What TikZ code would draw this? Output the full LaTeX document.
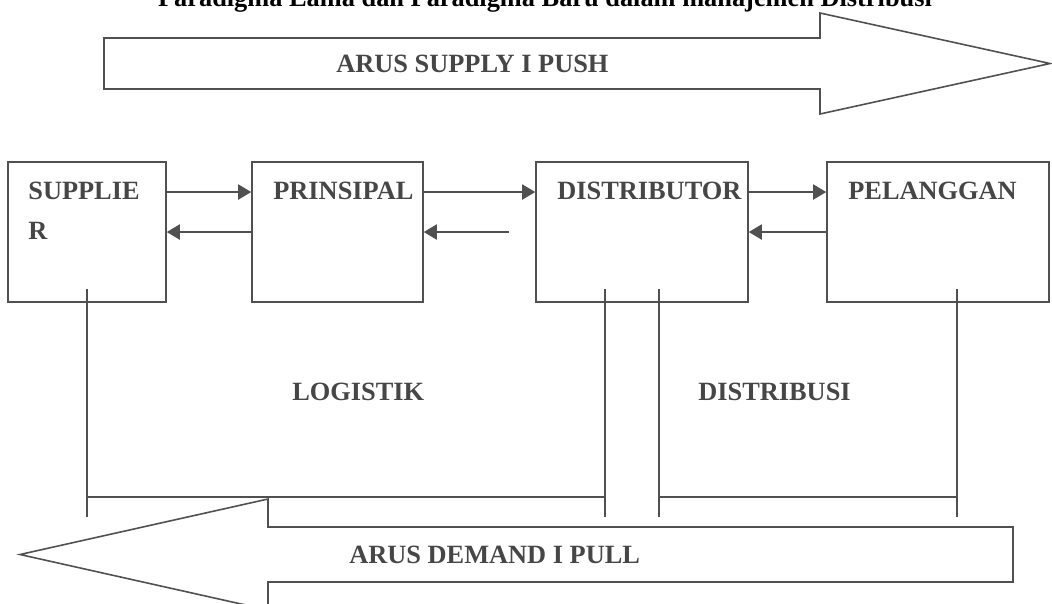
\documentclass[tikz,border=0pt]{standalone}
\usepackage{fontspec}
\setmainfont{Liberation Serif}
\usetikzlibrary{arrows.meta, positioning}
\definecolor{lineGray}{RGB}{80,80,80}
\definecolor{textGray}{RGB}{70,70,70}

\begin{document}
\begin{tikzpicture}[x=0.02cm, y=-0.02cm,
    partybox/.style={rectangle, draw=lineGray, line width=0.9pt,
    minimum height=2.8cm, inner sep=0pt},
    boxtext/.style={anchor=north west, inner sep=0pt, text=textGray,
    font=\bfseries\fontsize{15}{22.5}\selectfont, align=left},
    flowarrow/.style={-{Triangle[length=0.26cm, width=0.3cm]}, line width=1.1pt, color=lineGray},
    bigarrow/.style={draw=lineGray, line width=0.9pt},
    bracket/.style={draw=lineGray, line width=0.8pt}
]
\useasboundingbox (0,0) rectangle (1052,603);

% title (cut at the top)
\node[font=\bfseries\fontsize{15}{18}\selectfont, anchor=base] (title) at (545,6)
    {Paradigma Lama dan Paradigma Baru dalam manajemen Distribusi};

% supply arrow
\draw[bigarrow] (104,38) -- (820,38) -- (820,13) -- (1050,63.5) -- (820,114)
    -- (820,89) -- (104,89) -- cycle;
\node[boxtext, anchor=west] (push) at (336,63.5) {ARUS SUPPLY I PUSH};

% boxes
\node[partybox, minimum width=3.16cm] (sup) at (87,232) {};
\node[partybox, minimum width=3.42cm] (pri) at (337.5,232) {};
\node[partybox, minimum width=4.24cm] (dis) at (642,232) {};
\node[partybox, minimum width=4.44cm] (pel) at (938,232) {};

\node[boxtext] (supt) at (28,182) {SUPPLIE\\R};
\node[boxtext] (prit) at (273,182) {PRINSIPAL};
\node[boxtext] (dist) at (557,182) {DISTRIBUTOR};
\node[boxtext] (pelt) at (848,182) {PELANGGAN};

% flows between boxes
\draw[flowarrow] ([yshift=0.8cm]sup.east) -- ([yshift=0.8cm]pri.west);
\draw[flowarrow] (pri.west) -- (sup.east);
\draw[flowarrow] ([yshift=0.8cm]pri.east) -- ([yshift=0.8cm]dis.west);
\draw[flowarrow, shorten <=0.52cm] (dis.west) -- (pri.east);
\draw[flowarrow] ([yshift=0.8cm]dis.east) -- ([yshift=0.8cm]pel.west);
\draw[flowarrow] (pel.west) -- (dis.east);

% logistik and distribusi brackets
\coordinate (a1) at (87,289);   \coordinate (a2) at (87,517);
\coordinate (b1) at (605,289);  \coordinate (b2) at (605,517);
\coordinate (c1) at (659,289);  \coordinate (c2) at (659,517);
\coordinate (d1) at (957,289);  \coordinate (d2) at (957,517);
\draw[bracket] (a1) -- (a2);
\draw[bracket] (b1) -- (b2);
\draw[bracket] (c1) -- (c2);
\draw[bracket] (d1) -- (d2);
\draw[bracket] (a1 |- 0,497) -- (b1 |- 0,497);
\draw[bracket] (c1 |- 0,497) -- (d1 |- 0,497);

\node[boxtext, anchor=west] (log) at (292,392) {LOGISTIK};
\node[boxtext, anchor=west] (dst) at (698,392) {DISTRIBUSI};

% demand arrow
\draw[bigarrow] (1013,527) -- (268,527) -- (268,499) -- (20,554.5) -- (268,610)
    -- (268,582) -- (1013,582) -- cycle;
\node[boxtext, anchor=west] (pull) at (349,554.5) {ARUS DEMAND I PULL};
\end{tikzpicture}
\end{document}
